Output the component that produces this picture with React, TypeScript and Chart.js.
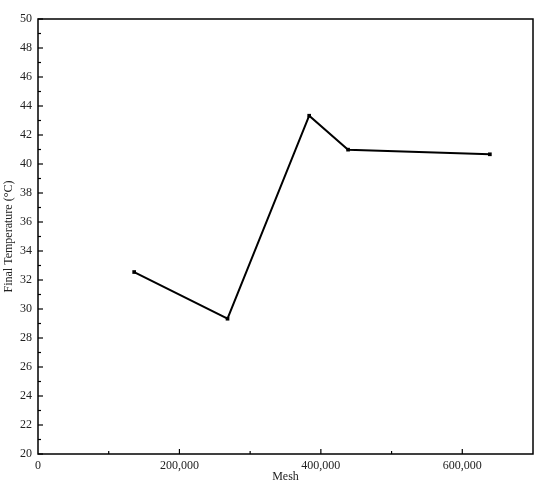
import React, { useEffect, useRef } from "react";
import { Chart, registerables } from "chart.js";

Chart.register(...registerables);

const meshCounts = [136000, 268000, 383500, 438500, 639000];
const finalTemps = [32.55, 29.33, 43.33, 40.99, 40.67];

const X_STEP = 200000;
const Y_STEP = 2;

const FONT = "'Liberation Serif', 'Times New Roman', serif";

const frameTicks = {
  id: "frameTicks",
  afterDraw(chart: any) {
    const { ctx, chartArea } = chart;
    const { left, right, top, bottom } = chartArea;
    const x = chart.scales.x;
    const y = chart.scales.y;
    ctx.save();
    ctx.strokeStyle = "#000";
    ctx.lineWidth = 1.5;
    ctx.strokeRect(left, top, right - left, bottom - top);
    ctx.lineWidth = 1.2;
    const majorLen = 5;
    const minorLen = 3;
    for (let v = y.min; v < y.max + 1e-9; v += Y_STEP) {
      const p = y.getPixelForValue(v);
      ctx.beginPath();
      ctx.moveTo(left, p);
      ctx.lineTo(left + majorLen, p);
      ctx.stroke();
      const mv = v + Y_STEP / 2;
      if (mv < y.max) {
        const mp = y.getPixelForValue(mv);
        ctx.beginPath();
        ctx.moveTo(left, mp);
        ctx.lineTo(left + minorLen, mp);
        ctx.stroke();
      }
    }
    for (let v = x.min; v < x.max + 1e-9; v += X_STEP) {
      const p = x.getPixelForValue(v);
      if (v > x.min) {
        ctx.beginPath();
        ctx.moveTo(p, bottom);
        ctx.lineTo(p, bottom - majorLen);
        ctx.stroke();
      }
      const mv = v + X_STEP / 2;
      if (mv < x.max) {
        const mp = x.getPixelForValue(mv);
        ctx.beginPath();
        ctx.moveTo(mp, bottom);
        ctx.lineTo(mp, bottom - minorLen);
        ctx.stroke();
      }
    }
    ctx.restore();
  },
};

function fmt(v: number) {
  const n = Math.round(v);
  return String(n).replace(/\B(?=(\d{3})+(?!\d))/g, ",");
}

export default function App() {
  const ref = useRef<HTMLCanvasElement>(null);
  useEffect(() => {
    if (!ref.current) return;
    const points = meshCounts.map((m, i) => ({ x: m, y: finalTemps[i] }));
    const chart = new Chart(ref.current, {
      type: "scatter",
      data: {
        datasets: [
          {
            data: points,
            showLine: true,
            borderColor: "#000",
            backgroundColor: "#000",
            borderWidth: 2,
            pointStyle: "rect",
            pointRadius: 2.6,
            pointBorderWidth: 0,
          },
        ],
      },
      options: {
        responsive: false,
        animation: false,
        layout: { padding: { top: 19, right: 17, left: 0, bottom: 0 } },
        plugins: { legend: { display: false }, tooltip: { enabled: false } },
        scales: {
          x: {
            type: "linear",
            min: 0,
            max: 700000,
            grid: { display: false, drawTicks: false },
            border: { display: false },
            afterBuildTicks: (s: any) => {
              const t = [];
              for (let v = 0; v <= 700000; v += X_STEP) t.push({ value: v });
              s.ticks = t;
            },
            ticks: {
              autoSkip: false,
              padding: 5,
              color: "#222",
              font: { family: FONT, size: 12 },
              maxRotation: 0,
              minRotation: 0,
              callback: (v: any) => fmt(Number(v)),
            },
            title: {
              display: true,
              text: "Mesh",
              color: "#222",
              font: { family: FONT, size: 12 },
              padding: { top: 0, bottom: 8 },
            },
            afterFit: (s: any) => {
              s.height = 38;
            },
          },
          y: {
            type: "linear",
            min: 20,
            max: 50,
            grid: { display: false, drawTicks: false },
            border: { display: false },
            ticks: {
              stepSize: Y_STEP,
              autoSkip: false,
              padding: 6,
              color: "#222",
              font: { family: FONT, size: 12 },
            },
            title: {
              display: true,
              text: "Final Temperature (°C)",
              color: "#222",
              font: { family: FONT, size: 12 },
              padding: { top: 2, bottom: 0 },
            },
            afterFit: (s: any) => {
              s.width = 38;
            },
          },
        },
      },
      plugins: [frameTicks],
    });
    return () => chart.destroy();
  }, []);
  return (
    <div style={{ position: "fixed", left: 0, top: 0, width: 550, height: 492, background: "#fff" }}>
      <canvas ref={ref} width={550} height={492} style={{ width: 550, height: 492 }} />
    </div>
  );
}
